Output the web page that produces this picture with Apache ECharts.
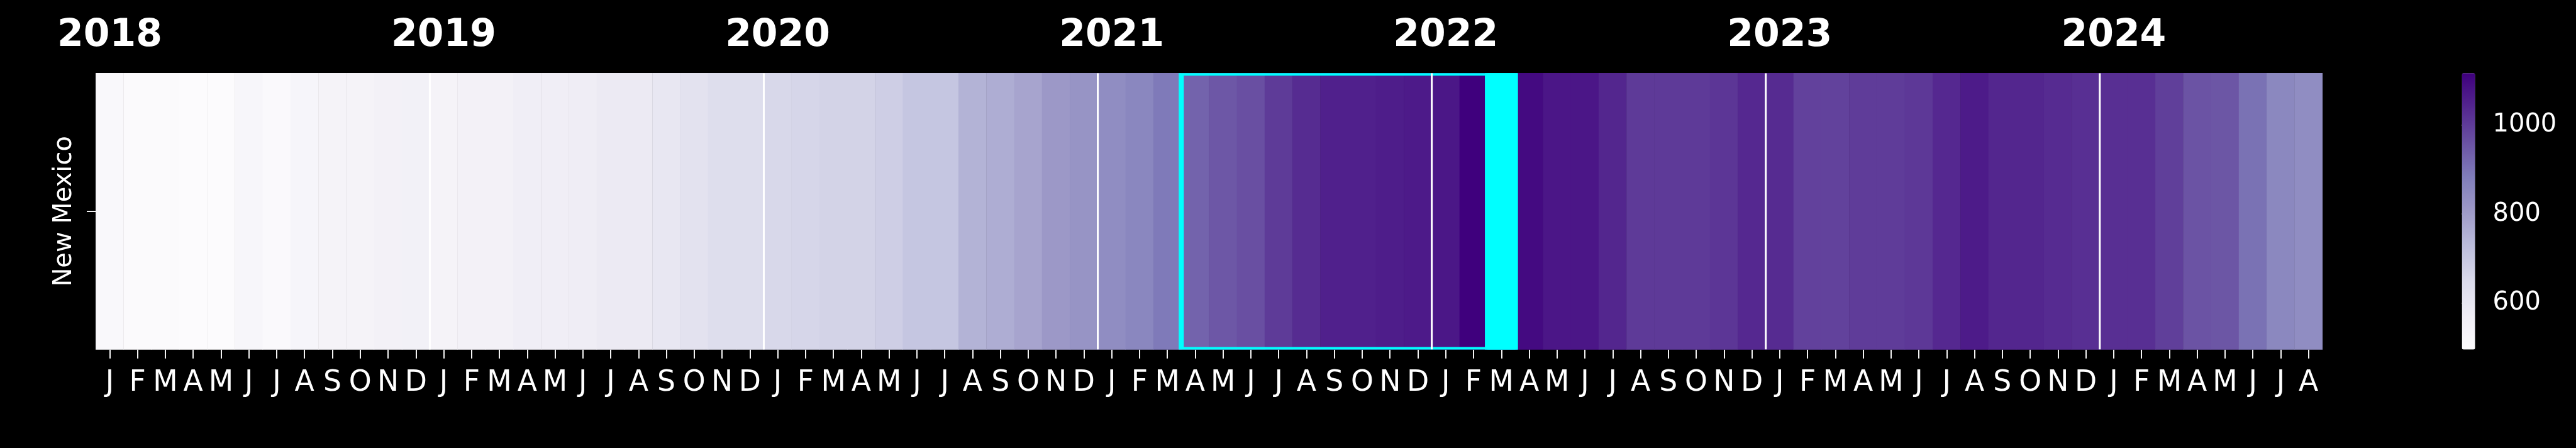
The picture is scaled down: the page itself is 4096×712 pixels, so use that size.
<!DOCTYPE html>
<html>
<head>
<meta charset="utf-8">
<script src="https://cdn.jsdelivr.net/npm/echarts@6/dist/echarts.min.js"></script>
<style>
html,body{margin:0;padding:0;background:#000;}
#chart{width:4096px;height:712px;}
</style>
</head>
<body>
<div id="chart"></div>
<script>
// ---------- data ----------
const years = [2018, 2019, 2020, 2021, 2022, 2023, 2024];
const monthLetters = ['J','F','M','A','M','J','J','A','S','O','N','D'];
const region = ['New Mexico'];
const v2018 = [512, 504, 504, 497, 496, 526, 506, 529, 540, 540, 551, 553];
const v2019 = [540, 551, 551, 568, 568, 574, 586, 586, 598, 618, 635, 635];
const v2020 = [657, 662, 670, 670, 683, 705, 705, 751, 764, 784, 812, 823];
const v2021 = [841, 857, 888, 930, 951, 965, 1002, 1030, 1053, 1053, 1059, 1065];
const v2022 = [1071, 1116, 1100, 1097, 1073, 1073, 1041, 1004, 1004, 1004, 1011, 1036];
const v2023 = [1031, 990, 988, 1000, 1000, 1008, 1036, 1063, 1041, 1041, 1031, 1024];
const v2024 = [1024, 1024, 995, 958, 953, 903, 854, 841];
const colorRange = [496, 1116];
const colorbarTicks = [600, 800, 1000];
const highlightSpan = ['2021-04', '2022-03'];   // outlined period
const highlightCell = ['2022-03'];              // filled cell
const purples = ['#fcfbfd','#efedf5','#dadaeb','#bcbddc','#9e9ac8','#807dba','#6a51a3','#54278f','#3f007d'];

// ---------- build ----------
const yearValues = [v2018, v2019, v2020, v2021, v2022, v2023, v2024];
const categories = [];
const cellData = [];
yearValues.forEach((arr, yi) => {
  arr.forEach((v, mi) => {
    const key = years[yi] + '-' + String(mi + 1).padStart(2, '0');
    cellData.push([categories.length, 0, v]);
    categories.push(key);
  });
});
const yearStartIdx = categories.map((c, i) => c.endsWith('-01') && i > 0 ? i : -1).filter(i => i >= 0);
const spanStart = categories.indexOf(highlightSpan[0]);
const spanEnd = categories.indexOf(highlightSpan[1]);
const cellIdx = highlightCell.map(c => categories.indexOf(c));

const S = 0.952;
const FONT = 'DejaVu Sans';
const gridLeft = 160 * S, gridTop = 122 * S, gridW = (3879 - 160) * S, gridH = (583.6 - 122) * S;
const cbLeft = 4112 * S, cbW = 22 * S;

const chart = echarts.init(document.getElementById('chart'), null, {renderer: 'canvas'});
chart.setOption({
  backgroundColor: '#000000',
  animation: false,
  grid: [
    {left: gridLeft, top: gridTop, width: gridW, height: gridH},
    {left: cbLeft, top: gridTop, width: cbW, height: gridH}
  ],
  xAxis: [
    {
      type: 'category', gridIndex: 0, data: categories, position: 'bottom',
      axisLine: {show: false}, splitLine: {show: false},
      axisTick: {show: true, alignWithLabel: true, interval: 0, length: 15 * S, lineStyle: {color: '#fff', width: 2 * S}},
      axisLabel: {interval: 0, color: '#fff', fontFamily: FONT, fontSize: 48 * S, margin: 31,
        formatter: (v, i) => monthLetters[Number(v.slice(5)) - 1]}
    },
    {
      type: 'category', gridIndex: 0, data: categories, position: 'top',
      axisLine: {show: false}, axisTick: {show: false}, splitLine: {show: false},
      axisLabel: {interval: 0, color: '#fff', fontFamily: FONT, fontWeight: 'bold', fontSize: 63 * S, margin: 29,
        formatter: (v) => v.endsWith('-01') ? v.slice(0, 4) : ''}
    },
    {type: 'value', gridIndex: 1, show: false, min: 0, max: 1}
  ],
  yAxis: [
    {
      type: 'category', gridIndex: 0, data: region,
      axisLine: {show: false}, splitLine: {show: false},
      axisTick: {show: true, alignWithLabel: true, length: 15 * S, lineStyle: {color: '#fff', width: 2 * S}},
      axisLabel: {rotate: 90, color: '#fff', fontFamily: FONT, fontSize: 42 * S, margin: 30}
    },
    {
      type: 'value', gridIndex: 1, position: 'right', min: colorRange[0], max: colorRange[1],
      axisLine: {show: false}, splitLine: {show: false},
      axisTick: {show: true, customValues: colorbarTicks, length: 15.6 * S, lineStyle: {color: '#fff', width: 2 * S}},
      axisLabel: {show: true, customValues: colorbarTicks, color: '#fff', fontFamily: FONT, fontSize: 42 * S, margin: 28,
        formatter: (v) => String(v)}
    }
  ],
  visualMap: {
    type: 'continuous', seriesIndex: 0, min: colorRange[0], max: colorRange[1],
    calculable: false, orient: 'vertical', left: cbLeft, top: gridTop,
    itemWidth: cbW, itemHeight: gridH, padding: 0, text: null, showLabel: false,
    inRange: {color: purples}
  },
  series: [
    {
      type: 'heatmap', xAxisIndex: 0, yAxisIndex: 0, data: cellData,
      itemStyle: {borderWidth: 0}, emphasis: {disabled: true}, z: 2
    },
    {
      type: 'custom', xAxisIndex: 0, yAxisIndex: 0, clip: true, z: 3, silent: true,
      data: [[spanStart, 0, spanEnd]],
      renderItem: (params, api) => {
        const a = api.coord([api.value(0), 0]);
        const b = api.coord([api.value(2), 0]);
        const sz = api.size([1, 1]);
        const children = [{
          type: 'rect',
          shape: {x: a[0] - sz[0] / 2, y: a[1] - sz[1] / 2, width: b[0] - a[0] + sz[0], height: sz[1]},
          style: {fill: null, stroke: '#00ffff', lineWidth: 8.5 * S}
        }];
        cellIdx.forEach(ci => {
          const c = api.coord([ci, 0]);
          children.push({
            type: 'rect',
            shape: {x: c[0] - sz[0] / 2, y: c[1] - sz[1] / 2, width: sz[0], height: sz[1]},
            style: {fill: '#00ffff', stroke: '#00ffff', lineWidth: 8.5 * S}
          });
        });
        return {type: 'group', children: children};
      }
    },
    {
      type: 'custom', xAxisIndex: 0, yAxisIndex: 0, clip: true, z: 4, silent: true,
      data: yearStartIdx.map(i => [i, 0]),
      renderItem: (params, api) => {
        const c = api.coord([api.value(0), 0]);
        const sz = api.size([1, 1]);
        const x = c[0] - sz[0] / 2;
        return {
          type: 'line',
          shape: {x1: x, y1: c[1] - sz[1] / 2, x2: x, y2: c[1] + sz[1] / 2},
          style: {stroke: '#ffffff', lineWidth: 3.2 * S}
        };
      }
    }
  ]
});
</script>
</body>
</html>
